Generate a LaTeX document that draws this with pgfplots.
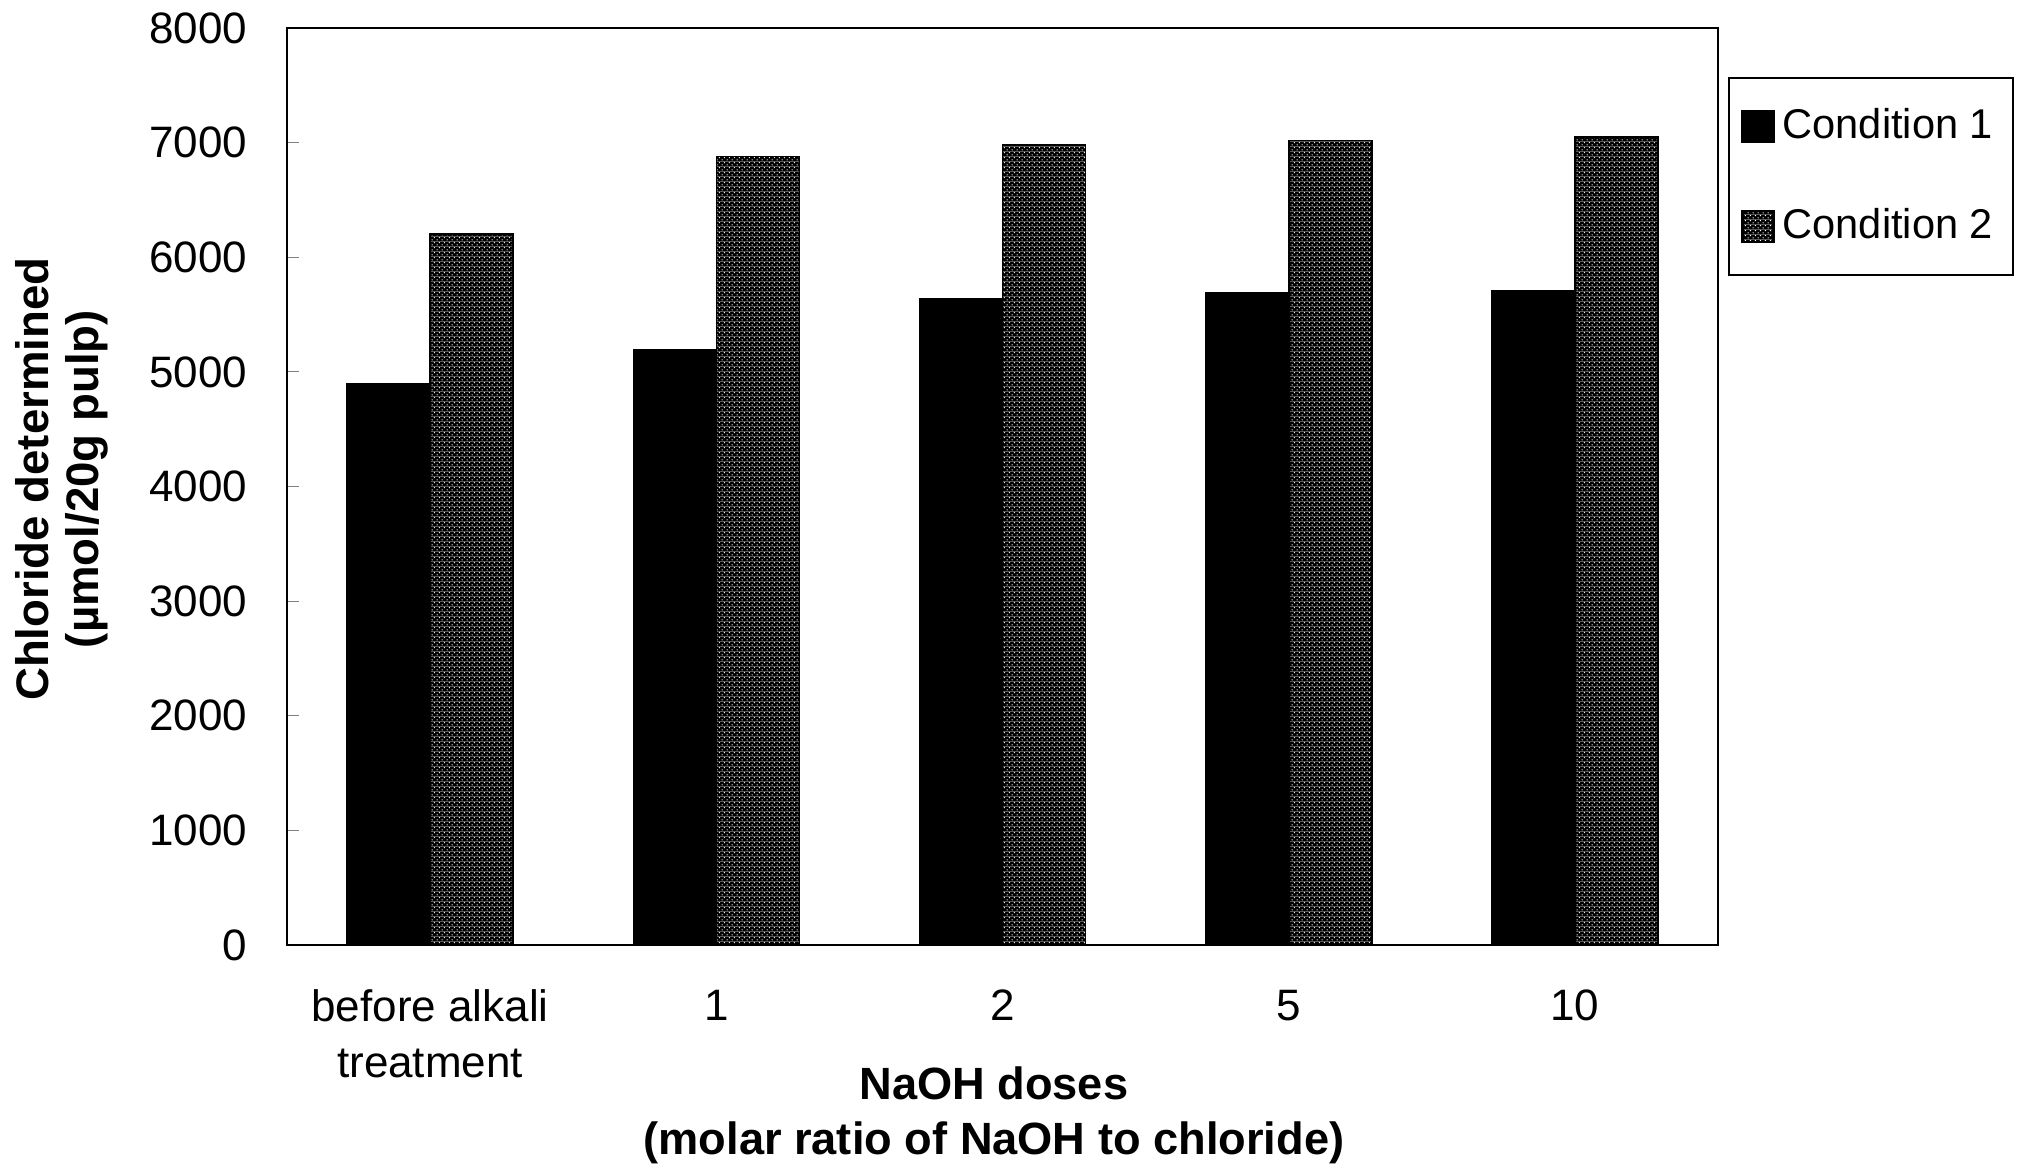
\documentclass[border=0pt]{standalone}
\usepackage{fontspec}
\setmainfont{Liberation Sans}
\usepackage{pgfplots}
\pgfplotsset{compat=1.18}
\usetikzlibrary{patterns.meta}

% fine halftone used for the second series
\tikzdeclarepattern{
  name=halftone,
  type=colored,
  bottom left={(0pt,0pt)},
  top right={(1.3pt,1.3pt)},
  tile size={(1.3pt,1.3pt)},
  code={
    \fill[black] (0pt,0pt) rectangle (1.3pt,1.3pt);
    \fill[white] (0.325pt,0.325pt) circle (0.2pt);
    \fill[white] (0.975pt,0.975pt) circle (0.2pt);
  }
}

\pgfplotsset{
  sq legend/.style={legend image code/.code={
    \draw[##1] (0pt,-3.875pt) rectangle (7.75pt,3.875pt);}},
}

\begin{document}
\begin{tikzpicture}
\begin{axis}[
    at={(71.75pt,54.75pt)}, anchor=south west,
    scale only axis,
    width=357.75pt, height=229.25pt,
    ybar=0pt,
    bar width=0.29,
    xmin=-0.5, xmax=4.5,
    ymin=0, ymax=8000,
    xtick=data,
    xticklabels={{before alkali\\treatment},1,2,5,10},
    xtick style={draw=none},
    xticklabel style={align=center, inner sep=0pt, yshift=-11pt,
        font=\fontsize{11}{13.9}\selectfont},
    ytick={0,1000,...,8000},
    ytick pos=left,
    tick align=inside,
    major tick length=3pt,
    yticklabel style={inner sep=0pt, xshift=-9.75pt,
        font=\fontsize{11}{13}\selectfont},
    scaled y ticks=false,
    /pgf/number format/assume math mode=true,
    /pgf/number format/1000 sep={},
    axis line style={line width=0.6pt},
    xlabel={NaOH doses\\(molar ratio of NaOH to chloride)},
    xlabel style={at={(axis description cs:0.494,-0.132)}, anchor=north,
        align=center, inner sep=0pt,
        font=\bfseries\fontsize{11.3}{13.8}\selectfont},
    ylabel={Chloride determined\\(\textmu mol/20g pulp)},
    ylabel style={at={(axis description cs:-0.19,0.508)}, anchor=north,
        align=center, inner sep=0pt,
        font=\bfseries\fontsize{11.4}{12.5}\selectfont},
    legend cell align=left,
    legend style={at={(1.007,0.947)}, anchor=north west,
        draw=black, line width=0.6pt,
        inner xsep=3pt, inner ysep=5.6pt,
        row sep=12pt,
        font=\fontsize{10.4}{12}\selectfont},
]
\addplot[fill=black, draw=black, sq legend] coordinates
    {(0,4900) (1,5190) (2,5640) (3,5690) (4,5710)};
\addlegendentry{Condition 1}
\addplot[pattern=halftone, draw=black, sq legend] coordinates
    {(0,6205) (1,6880) (2,6980) (3,7020) (4,7050)};
\addlegendentry{Condition 2}
\end{axis}
\pgfresetboundingbox
\path[use as bounding box] (0,0) rectangle (506pt,291pt);
\end{tikzpicture}
\end{document}
